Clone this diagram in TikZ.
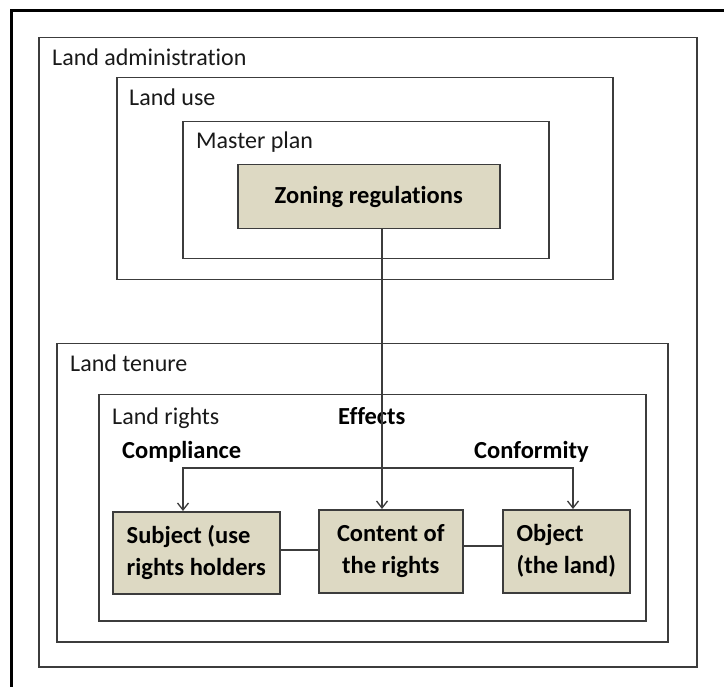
\documentclass[tikz,border=0pt]{standalone}
\usepackage{fontspec}
\setmainfont{Carlito}[Ligatures=NoCommon]
\usetikzlibrary{arrows.meta}
\definecolor{tanfill}{RGB}{221,217,195}
\definecolor{edge}{RGB}{60,60,60}
\begin{document}
\begin{tikzpicture}[x=1pt,y=-1pt,
  >={Straight Barb[length=7pt,width=11pt]},
  frame/.style={draw=edge,line width=1.5pt,anchor=north west,inner sep=0pt},
  tanbox/.style={draw=edge,fill=tanfill,line width=1.5pt,anchor=north west,inner sep=0pt,
    align=left,font=\bfseries\fontsize{24.5}{32}\selectfont},
  lbl/.style={anchor=base west,inner sep=0pt,font=\fontsize{24}{28}\selectfont,text=black!90},
  blbl/.style={anchor=base west,inner sep=0pt,font=\bfseries\fontsize{24.5}{28}\selectfont,text=black},
  link/.style={draw=edge,line width=1.3pt}]
\useasboundingbox (0,0) rectangle (724,687);
\fill[white] (0,0) rectangle (724,687);

% outer sheet edge
\draw[line width=3pt,black] (11,687) -- (11,11) -- (724,11);

% nested containers
\node[frame,minimum width=658,minimum height=629] (admin) at (38,37) {};
\node[frame,minimum width=496,minimum height=202] (use) at (116,77) {};
\node[frame,minimum width=366,minimum height=137] (plan) at (182,121) {};
\node[frame,minimum width=611,minimum height=298] (tenure) at (56,343) {};
\node[frame,minimum width=547,minimum height=226] (rights) at (98,394) {};

% container titles
\node[lbl] (tadmin) at (52,66) {Land administration};
\node[lbl] (tuse) at (129,106) {Land use};
\node[lbl] (tplan) at (196,149) {Master plan};
\node[lbl] (ttenure) at (70,372) {Land tenure};
\node[lbl] (trights) at (112,425) {Land rights};

% shaded boxes
\node[tanbox,align=center,minimum width=262,minimum height=64] (zon) at (237,164) {Zoning regulations};
\node[tanbox,minimum width=167,minimum height=82] (subj) at (112,511) {Subject (use\\rights holders};
\node[tanbox,align=center,minimum width=144,minimum height=83] (cont) at (318,509) {Content of\\the rights};
\node[tanbox,minimum width=127,minimum height=83] (obj) at (502,509) {Object\\(the land)};

% relation labels
\node[blbl] (leff) at (338,425) {Effects};
\node[blbl] (lcomp) at (122,458) {Compliance};
\node[blbl] (lconf) at (474,458) {Conformity};

% connectors
\coordinate (effx) at (382,0);
\coordinate (cmp) at (183,468);
\coordinate (cnf) at (573,468);
\coordinate (row1) at (0,550);
\coordinate (row2) at (0,546);

\draw[link,->] (zon.south -| effx) -- (cont.north -| effx);
\draw[link,<->] (subj.north -| cmp) -- (cmp) -- (cnf) -- (obj.north -| cnf);
\draw[link] (subj.east |- row1) -- (cont.west |- row1);
\draw[link] (cont.east |- row2) -- (obj.west |- row2);
\end{tikzpicture}
\end{document}
